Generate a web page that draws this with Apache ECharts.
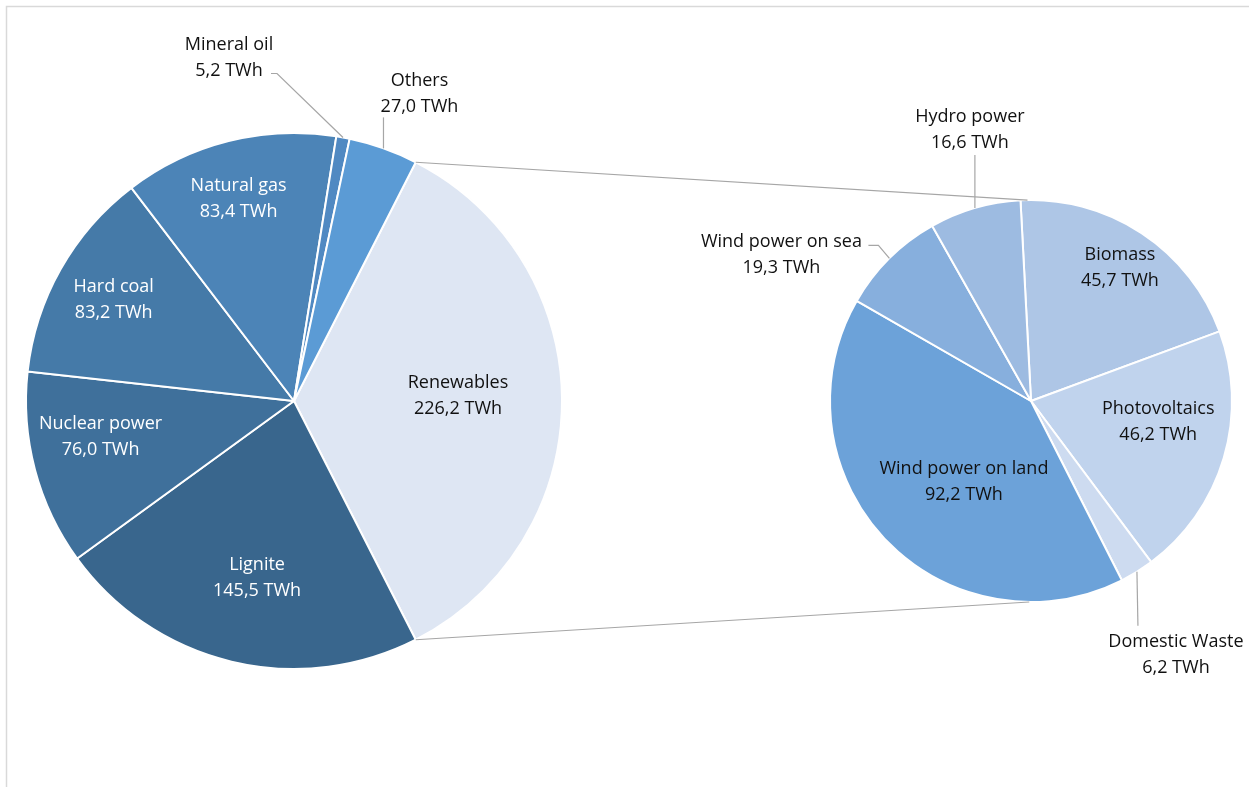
<!DOCTYPE html>
<html><head><meta charset="utf-8">
<script src="https://cdn.jsdelivr.net/npm/echarts@6/dist/echarts.min.js"></script>
<style>html,body{margin:0;padding:0;background:#fff}#c{width:1249px;height:787px}</style>
</head><body><div id="c"></div>
<script>
// ---- data ----
const mainNames = ['Renewables','Lignite','Nuclear power','Hard coal','Natural gas','Mineral oil','Others'];
const mainValues = [226.2, 145.5, 76.0, 83.2, 83.4, 5.2, 27.0];
const subNames = ['Biomass','Photovoltaics','Domestic Waste','Wind power on land','Wind power on sea','Hydro power'];
const subValues = [45.7, 46.2, 6.2, 92.2, 19.3, 16.6];
const unit = 'TWh';

// ---- styles ----
const mainColors = ['#dee6f3','#39668d','#3f709b','#457aa8','#4c84b7','#5089c2','#5b9bd5'];
const mainLabelColors = ['#111','#fff','#fff','#fff','#fff','#111','#111'];
const subColors = ['#aec6e6','#c0d3ed','#cddbf0','#6ca2d9','#87afdd','#9dbbe1'];
const FONT = 'Open Sans';

const sum = a => a.reduce((x,y)=>x+y,0);
const L = {cx:294, cy:401, r:268};
L.start = mainValues[0] / sum(mainValues) * 180; // renewables centred on the right
const R = {cx:1031, cy:401, r:201, start:93};

function midAngles(vals, start){
  const s = sum(vals); let a = start;
  return vals.map(v => { const span = v/s*360; const m = a - span/2; a -= span; return m; });
}
function pt(P, ang, rr){ const rad = ang*Math.PI/180; return [P.cx + rr*Math.cos(rad), P.cy - rr*Math.sin(rad)]; }
const mainMid = midAngles(mainValues, L.start);
const subMid = midAngles(subValues, R.start);

// label placement: inside labels -> offset from default; outside -> offset from slice edge
const mainLab = [
  {dx:27, dy:-5}, {dx:-5, dy:44}, {dx:-61, dy:1}, {dx:-61, dy:-34}, {dx:-22, dy:-69},
  {out:[-114,-80], line:[[-66,-64],[-72,-64]]},
  {out:[36,-55], line:[[0,-31]]}
];
const subLab = [
  {dx:32, dy:-47}, {dx:28, dy:-9},
  {out:[39,83], line:[[1,54]]},
  {dx:8, dy:10},
  {out:[-108,-3], line:[[-11,-13],[-21,-13]]},
  {out:[-5,-78], line:[[0,-53]]}
];

const fmt = p => p.name + '\n' + p.value.toFixed(1).replace('.', ',') + ' ' + unit;

const graphics = [
  {type:'rect', shape:{x:6.5, y:6.5, width:1400, height:1000}, style:{fill:'none', stroke:'#d9d9d9', lineWidth:1.5}, silent:true, z:0}
];
// connectors between the pies
const topL = pt(L, L.start, L.r), botL = pt(L, -L.start, L.r);
const topR = pt(R, 91, R.r), botR = pt(R, -90.5, R.r);
graphics.push({type:'line', shape:{x1:topL[0], y1:topL[1], x2:topR[0], y2:topR[1]}, style:{stroke:'#a6a6a6', lineWidth:1.2}, silent:true, z:10});
graphics.push({type:'line', shape:{x1:botL[0], y1:botL[1], x2:botR[0], y2:botR[1]}, style:{stroke:'#a6a6a6', lineWidth:1.2}, silent:true, z:10});
// leader lines
function addLeaders(P, mids, labs){
  labs.forEach((s,i) => {
    if (!s.out) return;
    const a = pt(P, mids[i], P.r);
    const pts = [a].concat(s.line.map(o => [a[0]+o[0], a[1]+o[1]]));
    graphics.push({type:'polyline', shape:{points:pts}, style:{stroke:'#a6a6a6', lineWidth:1.2, fill:null}, silent:true, z:10});
  });
}
addLeaders(L, mainMid, mainLab);
addLeaders(R, subMid, subLab);

function layoutFn(P, mids, labs){
  return function(params){
    const s = labs[params.dataIndex];
    if (s.out){
      const a = pt(P, mids[params.dataIndex], P.r);
      return {x:a[0]+s.out[0], y:a[1]+s.out[1], align:'center', verticalAlign:'middle'};
    }
    return {dx:s.dx, dy:s.dy};
  };
}

const baseLabel = {show:true, position:'inside', formatter:fmt, fontFamily:FONT, fontSize:18, lineHeight:26, align:'center'};

const option = {
  backgroundColor:'#fff',
  animation:false,
  series:[
    {
      type:'pie', center:[L.cx, L.cy], radius:[0, L.r], startAngle:L.start, clockwise:true,
      avoidLabelOverlap:false, silent:true,
      itemStyle:{borderColor:'#fff', borderWidth:2},
      label:baseLabel, labelLine:{show:false},
      labelLayout:layoutFn(L, mainMid, mainLab),
      data: mainNames.map((n,i)=>({name:n, value:mainValues[i], itemStyle:{color:mainColors[i]}, label:{color:mainLabelColors[i]}}))
    },
    {
      type:'pie', center:[R.cx, R.cy], radius:[0, R.r], startAngle:R.start, clockwise:true,
      avoidLabelOverlap:false, silent:true,
      itemStyle:{borderColor:'#fff', borderWidth:2},
      label:Object.assign({}, baseLabel, {color:'#111'}), labelLine:{show:false},
      labelLayout:layoutFn(R, subMid, subLab),
      data: subNames.map((n,i)=>({name:n, value:subValues[i], itemStyle:{color:subColors[i]}}))
    }
  ],
  graphic:graphics
};
const chart = echarts.init(document.getElementById('c'), null, {renderer:'canvas'});
chart.setOption(option);
</script></body></html>
